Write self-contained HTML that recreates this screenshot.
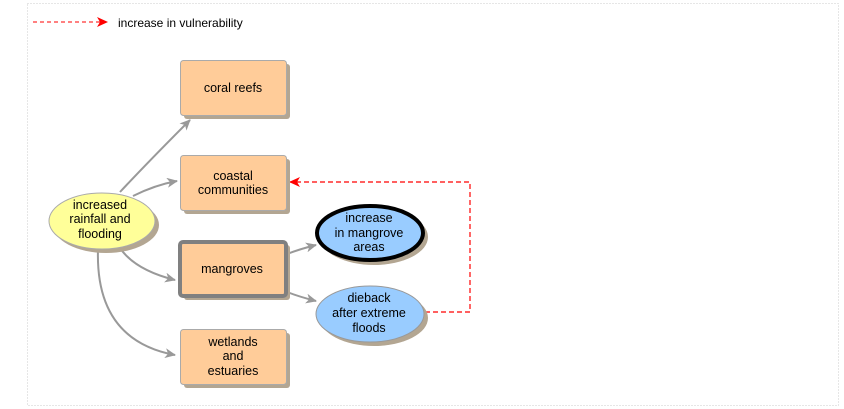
<!DOCTYPE html>
<html><head><style>body{margin:0;background:#fff}svg{display:block;font-family:"Liberation Sans",sans-serif}</style></head><body>
<svg width="844" height="409" viewBox="0 0 844 409">
<defs>
<marker id="g" markerWidth="12" markerHeight="10" refX="10" refY="5" orient="auto" markerUnits="userSpaceOnUse"><path d="M0,0 L11,5 L0,10 L3,5z" fill="#999"/></marker>
<marker id="r" markerWidth="12" markerHeight="10" refX="10" refY="5" orient="auto" markerUnits="userSpaceOnUse"><path d="M0,0 L11,5 L0,10 L3,5z" fill="#f00"/></marker>
</defs>
<rect x="27.5" y="3.5" width="811" height="402" fill="none" stroke="#ccc" stroke-dasharray="1,2"/>
<line x1="33" y1="22" x2="107" y2="22" stroke="#f00" stroke-dasharray="4,3" marker-end="url(#r)"/>
<text x="118" y="27" font-size="12">increase in vulnerability</text>
<g fill="none" stroke="#999" stroke-width="2">
<path d="M120,192 Q150,160 190,120" marker-end="url(#g)"/>
<path d="M133,196 Q155,185 177,181" marker-end="url(#g)"/>
<path d="M120,248 Q135,270 175,280" marker-end="url(#g)"/>
<path d="M98,249 Q95,340 175,355" marker-end="url(#g)"/>
<path d="M287,254 Q300,249 316,245" marker-end="url(#g)"/>
<path d="M287,292 Q300,297 316,301" marker-end="url(#g)"/>
</g>
<path d="M425,312 H470 V182 H290" fill="none" stroke="#f00" stroke-width="1.2" stroke-dasharray="5,3" marker-end="url(#r)"/>
<g fill="#b3a692">
<rect x="184" y="64" width="106" height="55" rx="3"/>
<rect x="184" y="159" width="106" height="55" rx="3"/>
<rect x="184" y="245" width="106" height="55" rx="3"/>
<rect x="184" y="333" width="106" height="55" rx="3"/>
<ellipse cx="106" cy="225" rx="53" ry="28"/>
<ellipse cx="374" cy="237" rx="54" ry="28"/>
<ellipse cx="374" cy="318" rx="54" ry="28"/>
</g>
<g fill="#ffcc99" stroke="#aaa">
<rect x="180.5" y="60.5" width="106" height="55" rx="3"/>
<rect x="180.5" y="155.5" width="106" height="55" rx="3"/>
<rect x="180.5" y="329.5" width="106" height="55" rx="3"/>
</g>
<rect x="180" y="242" width="106" height="54" rx="3" fill="#ffcc99" stroke="#808080" stroke-width="4"/>
<ellipse cx="102" cy="221" rx="53" ry="28" fill="#ffff99" stroke="#aaa"/>
<ellipse cx="370" cy="233" rx="53" ry="27" fill="#99ccff" stroke="#000" stroke-width="4"/>
<ellipse cx="370" cy="314" rx="54" ry="28" fill="#99ccff" stroke="#999"/>
<g font-size="12.5" text-anchor="middle" fill="#000">
<text x="233" y="92">coral reefs</text>
<text x="233" y="180">coastal</text><text x="233" y="194">communities</text>
<text x="232" y="273">mangroves</text>
<text x="233" y="346">wetlands</text><text x="233" y="360">and</text><text x="233" y="375">estuaries</text>
<text x="100" y="209">increased</text><text x="100" y="223">rainfall and</text><text x="100" y="238">flooding</text>
<text x="369" y="222">increase</text><text x="369" y="237">in mangrove</text><text x="369" y="251">areas</text>
<text x="369" y="302">dieback</text><text x="369" y="317">after extreme</text><text x="369" y="332">floods</text>
</g>
</svg>
</body></html>
